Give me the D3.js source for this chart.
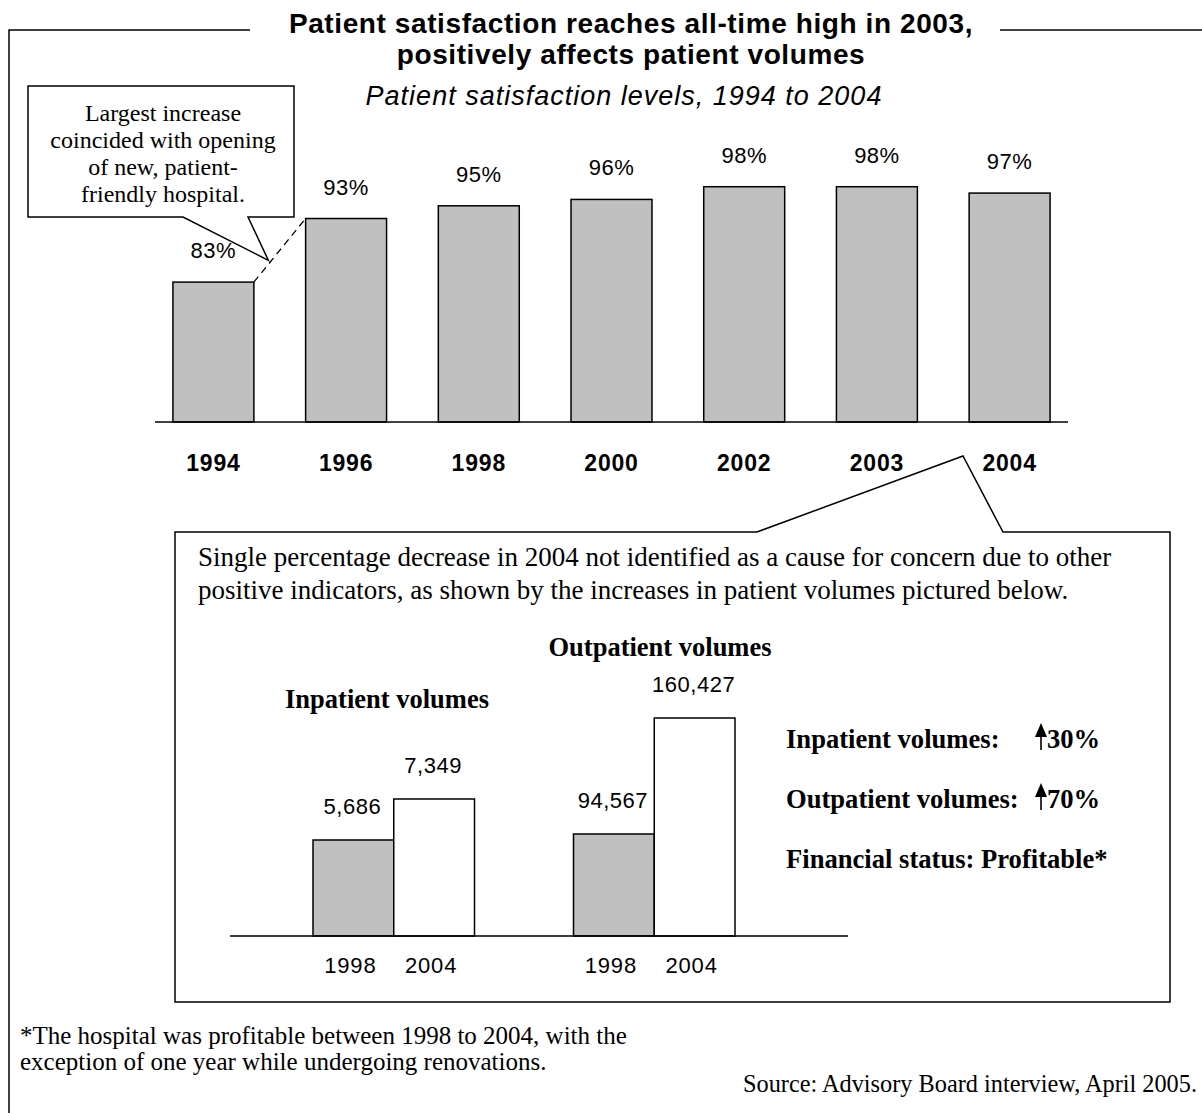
<!DOCTYPE html>
<html>
<head>
<meta charset="utf-8">
<script src="https://cdn.jsdelivr.net/npm/d3@7/dist/d3.min.js"></script>
<style>
  html, body { margin: 0; padding: 0; background: #fff; }
  svg { display: block; }
  .sans { font-family: "Liberation Sans", Arial, sans-serif; }
  .serif { font-family: "Liberation Serif", "Times New Roman", serif; }
</style>
</head>
<body>
<script>
// Satisfaction survey results by year
const years = ["1994", "1996", "1998", "2000", "2002", "2003", "2004"];
const satisfaction = [83, 93, 95, 96, 98, 98, 97];

// Patient volumes, 1998 vs 2004
const volumeGroups = ["Inpatient volumes", "Outpatient volumes"];
const volumeYears = ["1998", "2004"];
const inpatientVolumes = [5686, 7349];
const outpatientVolumes = [94567, 160427];

// Summary lines beside the volume chart
const summaryLabels = ["Inpatient volumes:", "Outpatient volumes:"];
const summaryChanges = ["30%", "70%"];

const W = 1202, H = 1113;
const GRAY = "#c0c0c0";

const svg = d3.select("body").append("svg")
  .attr("width", W).attr("height", H);

// ---- outer frame with a gap for the headline ----
const frame = svg.append("g").attr("fill", "none").attr("stroke", "#000").attr("stroke-width", 1.5);
frame.append("path").attr("d", d3.line()([[250, 30], [9, 30], [9, H + 2]]));
frame.append("path").attr("d", d3.line()([[1000, 30], [W + 2, 30]]));

// ---- headline ----
const head = svg.append("g").attr("class", "sans").attr("text-anchor", "middle");
head.append("text").attr("x", 631).attr("y", 33)
  .attr("font-size", 28).attr("font-weight", "bold").attr("letter-spacing", 0.6)
  .text("Patient satisfaction reaches all-time high in 2003,");
head.append("text").attr("x", 631).attr("y", 64)
  .attr("font-size", 28).attr("font-weight", "bold").attr("letter-spacing", 0.6)
  .text("positively affects patient volumes");
head.append("text").attr("x", 624).attr("y", 105)
  .attr("font-size", 27).attr("font-style", "italic").attr("letter-spacing", 1.0)
  .text("Patient satisfaction levels, 1994 to 2004");

// ---- satisfaction bar chart ----
const baseY = 422;
const x = d3.scaleBand().domain(years).range([155, 1068])
  .paddingInner(0.39).paddingOuter(0.135);
const y = d3.scaleLinear().domain([61, 100]).range([baseY, 174]);

const bars = svg.append("g");
bars.selectAll("rect").data(years).join("rect")
  .attr("x", d => x(d))
  .attr("y", (d, i) => y(satisfaction[i]))
  .attr("width", x.bandwidth())
  .attr("height", (d, i) => baseY - y(satisfaction[i]))
  .attr("fill", GRAY).attr("stroke", "#000").attr("stroke-width", 1.5);

bars.selectAll("text.val").data(years).join("text")
  .attr("class", "val sans")
  .attr("x", d => x(d) + x.bandwidth() / 2)
  .attr("y", (d, i) => y(satisfaction[i]) - 24)
  .attr("text-anchor", "middle").attr("font-size", 22).attr("letter-spacing", 0.5)
  .text((d, i) => satisfaction[i] + "%");

const xAxis = svg.append("g").attr("transform", `translate(0,${baseY})`)
  .call(d3.axisBottom(x).tickSize(0).tickPadding(0));
xAxis.select(".domain").attr("d", "M155,0H1068").attr("stroke", "#000").attr("stroke-width", 1.5);
xAxis.selectAll(".tick text")
  .attr("y", 49).attr("dy", null)
  .attr("font-size", 23).attr("font-weight", "bold").attr("fill", "#000").attr("letter-spacing", 0.8)
  .attr("font-family", "Liberation Sans, Arial, sans-serif");

// dashed connector between the 1994 and 1996 bars
const p0 = [x("1994") + x.bandwidth(), y(satisfaction[0])];
const p1 = [x("1996"), y(satisfaction[1])];
svg.append("path")
  .attr("d", d3.line()([p0, p1]))
  .attr("stroke", "#000").attr("stroke-width", 1.3).attr("stroke-dasharray", "7,5").attr("fill", "none");

// ---- callout: largest increase ----
const tip = [p0[0] + (p1[0] - p0[0]) * 0.28, p0[1] + (p1[1] - p0[1]) * 0.28 - 4];
const cb = { x0: 28, y0: 86, x1: 294, y1: 217 };
svg.append("path")
  .attr("d", d3.line()([[cb.x0, cb.y0], [cb.x1, cb.y0], [cb.x1, cb.y1], [248, cb.y1], tip,
    [183, cb.y1], [cb.x0, cb.y1]]) + "Z")
  .attr("fill", "#fff").attr("stroke", "#000").attr("stroke-width", 1.5);
const calloutLines = ["Largest increase", "coincided with opening", "of new, patient-", "friendly hospital."];
svg.append("g").attr("class", "serif").attr("text-anchor", "middle").attr("font-size", 24)
  .selectAll("text").data(calloutLines).join("text")
  .attr("x", 163).attr("y", (d, i) => 121 + i * 27)
  .text(d => d);

// ---- callout: 2004 explanation with volume chart ----
svg.append("path")
  .attr("d", d3.line()([[175, 532], [757, 532], [963, 456], [1003, 532], [1170, 532],
    [1170, 1002], [175, 1002]]) + "Z")
  .attr("fill", "#fff").attr("stroke", "#000").attr("stroke-width", 1.5);

const noteLines = [
  "Single percentage decrease in 2004 not identified as a cause for concern due to other",
  "positive indicators, as shown by the increases in patient volumes pictured below."
];
svg.append("g").attr("class", "serif").attr("font-size", 27)
  .selectAll("text").data(noteLines).join("text")
  .attr("x", 198).attr("y", (d, i) => 566 + i * 33)
  .text(d => d);

// volume chart
const vBase = 936;
const x0 = d3.scaleBand().domain(volumeGroups).range([313, 735]).paddingInner(0.38);
const x1 = d3.scaleBand().domain(volumeYears).range([0, x0.bandwidth()]);
const yIn = d3.scaleLinear().domain([1793, 7349]).range([vBase, 799]);
const yOut = d3.scaleLinear().domain([36650, 160427]).range([vBase, 718]);
const volumeSeries = [
  { group: volumeGroups[0], values: inpatientVolumes, scale: yIn },
  { group: volumeGroups[1], values: outpatientVolumes, scale: yOut }
];
const fmt = d3.format(",");

const vg = svg.append("g");
volumeSeries.forEach(s => {
  const g = vg.append("g").attr("transform", `translate(${x0(s.group)},0)`);
  g.selectAll("rect").data(volumeYears).join("rect")
    .attr("x", d => x1(d))
    .attr("y", (d, i) => s.scale(s.values[i]))
    .attr("width", x1.bandwidth())
    .attr("height", (d, i) => vBase - s.scale(s.values[i]))
    .attr("fill", (d, i) => i === 0 ? GRAY : "#fff")
    .attr("stroke", "#000").attr("stroke-width", 1.5);
  g.selectAll("text.val").data(volumeYears).join("text")
    .attr("class", "val sans")
    .attr("x", d => x1(d) + x1.bandwidth() / 2 - 1)
    .attr("y", (d, i) => s.scale(s.values[i]) - 26)
    .attr("text-anchor", "middle").attr("font-size", 22).attr("letter-spacing", 0.5)
    .text((d, i) => fmt(s.values[i]));
  g.selectAll("text.yr").data(volumeYears).join("text")
    .attr("class", "yr sans")
    .attr("x", d => x1(d) + x1.bandwidth() / 2 - 3)
    .attr("y", 973)
    .attr("text-anchor", "middle").attr("font-size", 22).attr("letter-spacing", 0.8)
    .text(d => d);
});
vg.append("path").attr("d", d3.line()([[230, vBase], [848, vBase]]))
  .attr("stroke", "#000").attr("stroke-width", 1.5);

// group titles
svg.append("text").attr("class", "serif").attr("x", 660).attr("y", 656)
  .attr("text-anchor", "middle").attr("font-size", 26.5).attr("font-weight", "bold")
  .text(volumeGroups[1]);
svg.append("text").attr("class", "serif").attr("x", 387).attr("y", 708)
  .attr("text-anchor", "middle").attr("font-size", 26.5).attr("font-weight", "bold")
  .text(volumeGroups[0]);

// summary with up arrows
const sumG = svg.append("g").attr("class", "serif").attr("font-size", 26.6).attr("font-weight", "bold");
summaryLabels.forEach((label, i) => {
  const by = 748 + i * 60;
  sumG.append("text").attr("x", 786).attr("y", by).text(label);
  sumG.append("line").attr("x1", 1041).attr("x2", 1041).attr("y1", by + 2).attr("y2", by - 14)
    .attr("stroke", "#000").attr("stroke-width", 1.6);
  sumG.append("path").attr("d", d3.line()([[1035, by - 11], [1041, by - 25], [1047, by - 11]]) + "Z")
    .attr("fill", "#000");
  sumG.append("text").attr("x", 1047).attr("y", by).text(summaryChanges[i]);
});
sumG.append("text").attr("x", 786).attr("y", 868).text("Financial status: Profitable*");

// ---- footnote and source ----
const foot = svg.append("g").attr("class", "serif");
foot.append("text").attr("x", 20).attr("y", 1044).attr("font-size", 25)
  .text("*The hospital was profitable between 1998 to 2004, with the");
foot.append("text").attr("x", 20).attr("y", 1070).attr("font-size", 25)
  .text("exception of one year while undergoing renovations.");
foot.append("text").attr("x", 1197).attr("y", 1092).attr("text-anchor", "end").attr("font-size", 24.3)
  .text("Source: Advisory Board interview, April 2005.");
</script>
</body>
</html>
